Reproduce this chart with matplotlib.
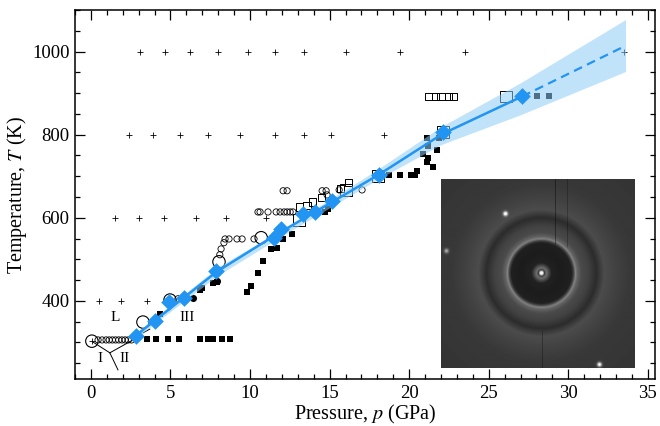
"""Melting curve p-T chart with a diffraction image inset."""
import numpy as np
import matplotlib
matplotlib.use("Agg")
import matplotlib.pyplot as plt
from matplotlib.ticker import MultipleLocator

plt.rcParams["font.family"] = ["Liberation Serif", "DejaVu Serif"]
plt.rcParams["mathtext.fontset"] = "stix"

# grid of "+" runs
plus_p = [3.1, 4.65, 6.2, 8.0, 9.9, 11.6, 13.4, 16.0, 19.4, 23.5, 33.5,
          2.4, 3.9, 5.6, 7.35, 9.4, 11.6, 13.4, 15.1, 18.4,
          1.5, 3.0, 4.6, 6.6, 8.5, 11.0,
          0.5, 1.9, 3.5, 0.06]
plus_T = [1000] * 11 + [800] * 9 + [600] * 6 + [400] * 3 + [303]

# open circles
circ_p = [0.45, 0.7, 0.95, 1.15, 1.35, 1.55, 1.75, 1.95, 2.15, 2.35, 2.55,
          5.47, 8.1, 8.18, 8.36, 8.43, 8.68, 9.18, 9.5, 10.25,
          10.5, 10.63, 11.13, 11.64, 11.89, 12.14, 12.33, 12.52, 12.7,
          12.08, 12.33, 14.53, 14.78, 14.84, 15.6, 17.04]
circ_T = [306] * 11 + [405, 511, 525, 540, 549, 549, 549, 549, 549] + [614] * 9 + \
         [665, 665, 665, 665, 655, 667, 667]
big_circ_p = [0.06, 3.27, 4.97, 8.05, 10.7]
big_circ_T = [303, 349, 402, 494, 552]

# open squares
sq_p = [13.08, 13.58, 13.9, 14.47, 15.66, 16.16, 21.2, 21.64, 22.0, 22.45, 22.77]
sq_T = [626, 629, 638, 648, 670, 684, 892, 892, 892, 892, 892]
big_sq_p = [13.08, 16.04, 18.05, 22.14, 26.1]
big_sq_T = [595, 667, 701, 807, 892]

# filled squares and circles
fill_p = [3.52, 4.09, 4.84, 5.53, 6.86, 7.36, 7.67, 8.24, 8.74,
          9.81, 10.06, 10.5, 10.82, 11.32, 11.7, 12.08, 12.64, 14.72, 14.9,
          18.74, 19.43, 20.13, 20.38, 20.5, 21.13, 21.2, 21.51, 20.88, 21.76,
          21.2, 21.13, 21.89, 28.05, 28.8, 4.34, 6.98, 7.67, 7.92, 6.86]
fill_T = [308] * 9 + [422, 436, 467, 496, 525, 528, 549, 561, 614, 622,
                      704, 704, 704, 704, 713, 735, 745, 723, 754, 764,
                      773, 793, 793, 892, 892, 369, 431, 443, 446, 426]
dot_p = [6.42, 7.92]
dot_T = [407, 448]

# blue diamonds, fit line and band
dia_p = [2.83, 4.03, 4.9, 5.85, 7.86, 11.5, 11.95, 13.33, 14.09, 15.16, 18.1, 22.1, 27.1]
dia_T = [316, 352, 397, 407, 472, 552, 573, 610, 614, 641, 704, 807, 892]
fit_p = [2.8, 7.9, 11.5, 18.1, 22.1, 27.1]
fit_T = [316, 470, 556, 704, 802, 892]
ext_p = [27.1, 33.5]
ext_T = [892, 1012]
band_p = [2.8, 8.0, 12.0, 18.0, 22.0, 27.0, 33.6]
band_hi = [322, 482, 572, 716, 819, 925, 1077]
band_lo = [310, 462, 556, 692, 776, 848, 952]

# inset: radial brightness
prof_r = [0, 1.5, 3, 5, 7, 10, 20, 30, 32, 34, 36, 40, 47, 55, 63, 75, 90, 140]
prof_v = [255, 230, 60, 110, 80, 34, 28, 32, 65, 130, 100, 75, 66, 44, 76, 66, 56, 52]
spot_x = [505, 446, 599]
spot_y = [214, 251, 364]
spot_v = [220, 120, 210]

fig = plt.figure(figsize=(6.6, 4.26), dpi=100)
ax = fig.add_axes([75 / 660, 1 - 379 / 426, 580 / 660, 369 / 426])

ax.scatter(plus_p, plus_T, marker="+", s=20, c="k", linewidths=0.6, zorder=2)
ax.scatter(fill_p, fill_T, marker="s", s=25, c="k", linewidths=0, zorder=2)
ax.scatter(dot_p, dot_T, marker="o", s=26, c="k", linewidths=0, zorder=2)
ax.scatter(circ_p, circ_T, marker="o", s=20, facecolors="none", edgecolors="k", linewidths=0.6, zorder=2)
ax.scatter(big_circ_p, big_circ_T, marker="o", s=80, facecolors="none", edgecolors="k", linewidths=0.8, zorder=2)
ax.scatter(sq_p, sq_T, marker="s", s=26, facecolors="none", edgecolors="k", linewidths=0.7, zorder=2)
ax.scatter(big_sq_p, big_sq_T, marker="s", s=72, facecolors="none", edgecolors="k", linewidths=0.7, zorder=2)

ax.fill_between(band_p, band_lo, band_hi, color="#8fcdf7", alpha=0.55, linewidth=0, zorder=3)
ax.plot(fit_p, fit_T, color="#2294f2", lw=1.8, zorder=4)
ax.plot(ext_p, ext_T, color="#2294f2", lw=1.6, ls=(0, (4, 2.5)), zorder=4)
ax.scatter(dia_p, dia_T, marker="D", s=72, c="#2294f2", linewidths=0, zorder=5)

# phase labels and the boundary lines at the triple point
for txt, px, py in [("L", 1.5, 361), ("III", 6.04, 361), ("I", 0.57, 262), ("II", 2.14, 262)]:
    ax.text(px, py, txt, fontsize=11, ha="center", va="center")
for px, py in [(2.64, 306), (0.13, 301), (1.7, 234)]:
    ax.plot([1.19, px], [275, py], color="k", lw=0.7, zorder=2)
ax.plot([3.27, 3.7], [323, 332], color="k", lw=0.7, zorder=2)

ax.set_xlim(-1, 35.45)
ax.set_ylim(212, 1100)
ax.xaxis.set_major_locator(MultipleLocator(5))
ax.xaxis.set_minor_locator(MultipleLocator(1))
ax.yaxis.set_major_locator(MultipleLocator(200))
ax.yaxis.set_minor_locator(MultipleLocator(50))
ax.tick_params(which="both", direction="in", top=True, right=True, width=0.9, labelsize=13.5)
ax.tick_params(which="major", length=7, pad=4)
ax.tick_params(which="minor", length=3.5)
for s in ax.spines.values():
    s.set_linewidth(1.1)
ax.set_xlabel("Pressure, $p$ (GPa)", fontsize=14.5, labelpad=1)
ax.set_ylabel("Temperature, $T$ (K)", fontsize=14.5, labelpad=2)

# inset image, pixel grid matches its place on the figure
x0, x1, y0, y1 = 441, 635, 179, 368
xx, yy = np.meshgrid(np.arange(x0, x1), np.arange(y0, y1))
rr = np.hypot(xx - 541, yy - 273)
img = np.interp(rr, prof_r, prof_v)
for sx, sy, sv in zip(spot_x, spot_y, spot_v):
    img += sv * np.exp(-((xx - sx) ** 2 + (yy - sy) ** 2) / 5.0)
img[(xx == 555) & (yy < 245)] *= 0.6
img[(xx == 567) & (yy < 248)] *= 0.75
img[(xx == 542) & (yy > 330)] *= 0.7

ins = fig.add_axes([x0 / 660, 1 - y1 / 426, (x1 - x0) / 660, (y1 - y0) / 426], zorder=6)
ins.imshow(img, cmap="gray", vmin=0, vmax=255, aspect="auto", interpolation="bilinear")
ins.axis("off")

fig.savefig("out.png", dpi=100)
plt.close(fig)
